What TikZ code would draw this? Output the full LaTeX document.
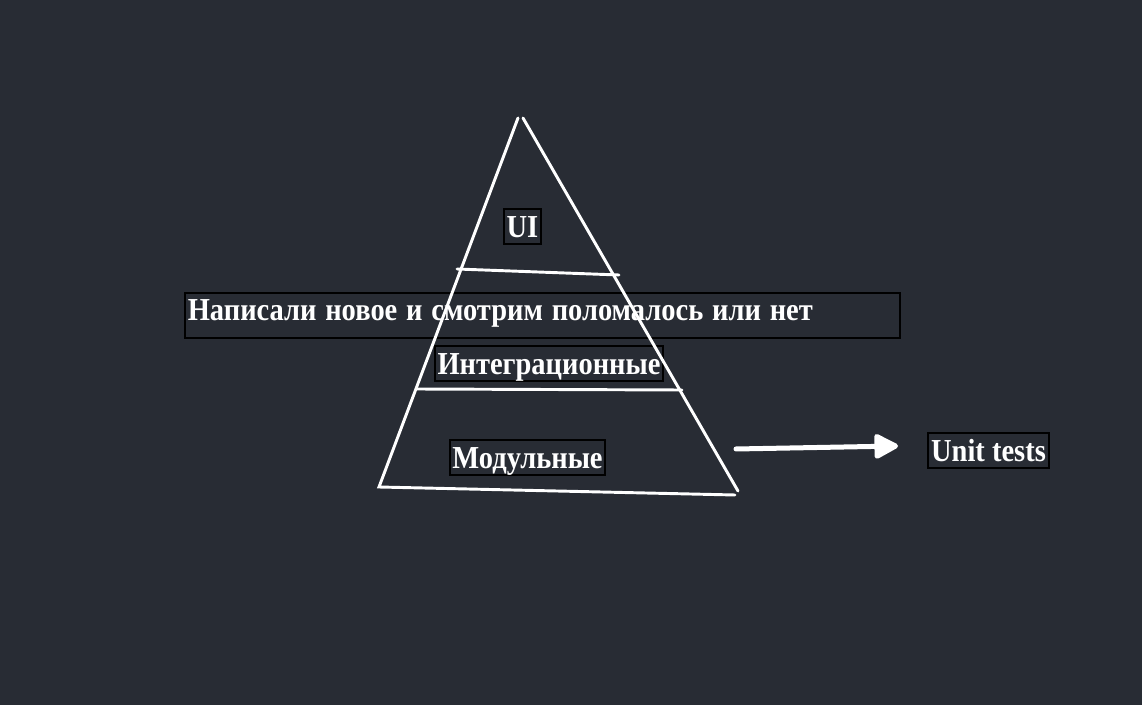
\documentclass[tikz,border=0pt]{standalone}
\usepackage{fontspec}
\setmainfont{Liberation Serif}
\newfontfamily\lblfont[FakeStretch=0.89]{Liberation Serif}
\usetikzlibrary{arrows.meta}
\definecolor{bgdark}{RGB}{40,44,52}

\begin{document}
\begin{tikzpicture}[x=0.75pt,y=-0.75pt,
	edge/.style={draw=white, line width=2.2pt, line cap=round},
	lbl/.style={draw=black, line width=1.5pt, text=white, inner xsep=2pt, inner ysep=3pt,
		text height=18pt, text depth=2pt, font=\lblfont\bfseries\fontsize{24}{28}\selectfont}]
		\fill[bgdark] (0,0) rectangle (1142,705);

		\coordinate (l1) at (518,118);
		\coordinate (r1) at (523,118);
		\coordinate (l4) at (379,487);
		\coordinate (r4) at (738,491);
		\coordinate (b4) at (735,495);

		\coordinate (l2) at (457,269);
		\coordinate (r2) at (619,275);
		\coordinate (l3) at (416,389);
		\coordinate (r3) at (682,390);

		\coordinate (a1) at (736,449);
		\coordinate (a2) at (898,446);

		\node[lbl] (ui) at (522.5,226.5) {UI};
		\node[lbl, text height=16pt, text depth=8pt, inner ysep=4.9pt] (note) at (542.5,315.5)
			{\makebox[532pt][l]{\spaceskip=0.276em Написали новое и смотрим поломалось или нет}};
		\node[lbl] (integ) at (549,363.5) {Интеграционные};
		\node[lbl] (modul) at (527.5,457.5) {Модульные};
		\node[lbl] (unit) at (988.5,450.5) {Unit tests};

		\draw[edge] (l1)--(l4)--(b4);
		\draw[edge] (r1)--(r4);
		\draw[edge] (l2)--(r2);
		\draw[edge] (l3)--(r3);

		\draw[edge, line width=3.75pt, -{Triangle[length=20pt,width=20pt,round]}] (a1)--(a2);
	\end{tikzpicture}
\end{document}
